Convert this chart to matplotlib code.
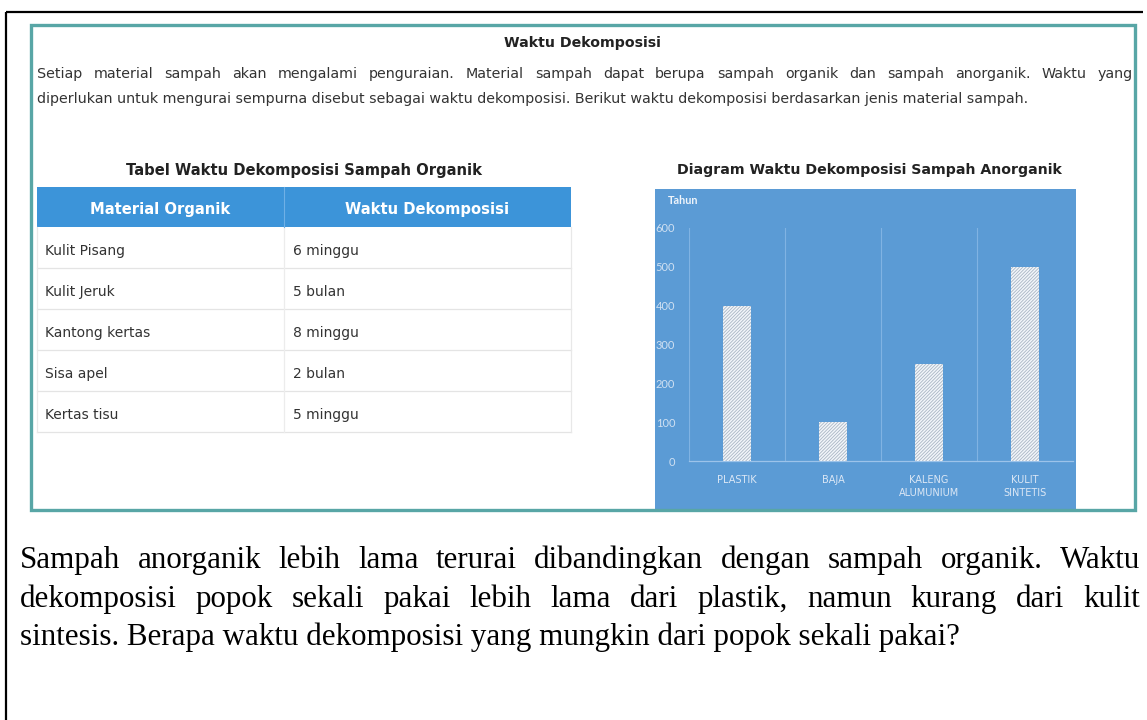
import matplotlib
matplotlib.use('Agg')
import matplotlib.pyplot as plt
from matplotlib.patches import Rectangle
from matplotlib.font_manager import FontProperties

# ---------------- data ----------------
categories = ['PLASTIK', 'BAJA', 'KALENG\nALUMUNIUM', 'KULIT\nSINTETIS']
years = [400, 100, 250, 500]
y_ticks = [0, 100, 200, 300, 400, 500, 600]
y_label = 'Tahun'

table_header = ['Material Organik', 'Waktu Dekomposisi']
materials = ['Kulit Pisang', 'Kulit Jeruk', 'Kantong kertas', 'Sisa apel', 'Kertas tisu']
durations = ['6 minggu', '5 bulan', '8 minggu', '2 bulan', '5 minggu']

title = 'Waktu Dekomposisi'
intro_lines = [
    'Setiap material sampah akan mengalami penguraian. Material sampah dapat berupa sampah organik dan sampah anorganik. Waktu yang',
    'diperlukan untuk mengurai sempurna disebut sebagai waktu dekomposisi. Berikut waktu dekomposisi berdasarkan jenis material sampah.',
]
table_title = 'Tabel Waktu Dekomposisi Sampah Organik'
chart_title = 'Diagram Waktu Dekomposisi Sampah Anorganik'
question_lines = [
    'Sampah anorganik lebih lama terurai dibandingkan dengan sampah organik. Waktu',
    'dekomposisi popok sekali pakai lebih lama dari plastik, namun kurang dari kulit',
    'sintesis. Berapa waktu dekomposisi yang mungkin dari popok sekali pakai?',
]

# ---------------- figure ----------------
W, H = 1147, 720
fig = plt.figure(figsize=(W / 100, H / 100), dpi=100)
bg = fig.add_axes([0, 0, 1, 1])
bg.set_xlim(0, W)
bg.set_ylim(H, 0)
bg.axis('off')
renderer = fig.canvas.get_renderer()

TXT = '#333333'
TEAL = '#58a6a6'
BLUE_PANEL = '#5b9bd5'
HEAD_BLUE = '#3c94d9'

# outer black frame (top + left)
bg.plot([6, 1143], [12, 12], color='black', lw=1.6, solid_capstyle='butt')
bg.plot([6, 6], [12, H], color='black', lw=1.6, solid_capstyle='butt')

# blue chart panel
bg.add_patch(Rectangle((655, 189), 421, 321, facecolor=BLUE_PANEL, edgecolor='none', zorder=1))

# teal box
bg.add_patch(Rectangle((31, 25), 1104, 485, facecolor='none', edgecolor=TEAL, lw=2.4, zorder=5))


def fit_size(text, family, weight, target, base=10.0):
    fp = FontProperties(family=family, weight=weight, size=base)
    t = bg.text(0, 0, text, fontproperties=fp)
    w = t.get_window_extent(renderer).width
    t.remove()
    return base * target / w


def justified(line, y, x0, x1, fp, color, justify=True):
    if not justify:
        bg.text(x0, y, line, fontproperties=fp, color=color, va='baseline', ha='left')
        return
    words = line.split(' ')
    txts = [bg.text(0, y, w, fontproperties=fp, color=color, va='baseline', ha='left') for w in words]
    widths = [t.get_window_extent(renderer).width for t in txts]
    gap = (x1 - x0 - sum(widths)) / (len(words) - 1)
    x = x0
    for t, w in zip(txts, widths):
        t.set_x(x)
        x += w + gap


# title and intro
sans = 'DejaVu Sans'
bg.text(582, 43, title, family=sans, weight='bold', size=10.2, color='#222222', ha='center', va='center')
intro_size = fit_size(intro_lines[1], sans, 'normal', 1028 - 37)
fp_intro = FontProperties(family=sans, size=intro_size)
justified(intro_lines[0], 78, 37, 1133, fp_intro, TXT, True)
justified(intro_lines[1], 103, 37, 1133, fp_intro, TXT, False)

# sub titles
bg.text(304, 170, table_title, family=sans, weight='bold', size=10.6, color='#222222', ha='center', va='center')
bg.text(869, 170, chart_title, family=sans, weight='bold', size=10.2, color='#222222', ha='center', va='center')

# ---------------- table ----------------
tx0, tx1, tdiv = 37, 571, 284
head_top, head_bot = 187, 227
row_h = 41
bg.add_patch(Rectangle((tx0, head_top), tx1 - tx0, head_bot - head_top, facecolor=HEAD_BLUE, edgecolor='none', zorder=2))
bg.plot([tdiv, tdiv], [head_top, head_bot], color='#6fb0e6', lw=0.8, zorder=3)
for j, h in enumerate(table_header):
    cx = (tx0 + tdiv) / 2 if j == 0 else (tdiv + tx1) / 2
    bg.text(cx, (head_top + head_bot) / 2 + 1, h, family=sans, weight='bold', size=10.6, color='white',
            ha='center', va='center_baseline', zorder=4)
n = len(materials)
tbot = head_bot + row_h * n
for i, (m, d) in enumerate(zip(materials, durations)):
    top = head_bot + row_h * i
    bg.plot([tx0, tx1], [top + row_h, top + row_h], color='#e4e4e4', lw=0.9, zorder=2)
    cy = top + row_h / 2 + 2
    bg.text(tx0 + 8, cy, m, family=sans, size=10, color=TXT, ha='left', va='center_baseline', zorder=3)
    bg.text(tdiv + 9, cy, d, family=sans, size=10, color=TXT, ha='left', va='center_baseline', zorder=3)
bg.plot([tx0, tx0], [head_bot, tbot], color='#e8e8e8', lw=0.9, zorder=2)
bg.plot([tx1, tx1], [head_bot, tbot], color='#e8e8e8', lw=0.9, zorder=2)
bg.plot([tdiv, tdiv], [head_bot, tbot], color='#ececec', lw=0.9, zorder=2)

# ---------------- chart ----------------
ax_l, ax_r, ax_b, ax_t = 689, 1073, 461, 228
ax = fig.add_axes([ax_l / W, (H - ax_b) / H, (ax_r - ax_l) / W, (ax_b - ax_t) / H])
ax.set_facecolor('none')
ax.set_zorder(3)
x = list(range(len(categories)))
plt.rcParams['hatch.linewidth'] = 0.6
ax.bar(x, years, width=0.29, color='#f2f6fa', edgecolor='#a9b6c4', lw=0, hatch='//////////', zorder=3)
ax.set_xlim(-0.5, len(categories) - 0.5)
ax.set_ylim(0, 600)
ax.set_yticks(y_ticks)
ax.set_yticklabels([str(v) for v in y_ticks], family='Lato', size=8, color='#cfe0f2')
ax.set_xticks(x)
ax.set_xticklabels(categories, family='DejaVu Sans', size=7, color='#dbe7f5', linespacing=1.45)
ax.set_xticks([i - 0.5 for i in range(len(categories) + 1)], minor=True)
ax.tick_params(axis='both', which='both', length=0)
ax.tick_params(axis='y', pad=10)
ax.tick_params(axis='x', pad=10)
ax.grid(True, which='minor', axis='x', color='#80b3e3', lw=0.8)
ax.grid(False, which='major')
for s in ['top', 'right', 'left']:
    ax.spines[s].set_visible(False)
ax.spines['bottom'].set_color('#9cc3ea')
ax.spines['bottom'].set_linewidth(0.9)
bg.text(668, 201, y_label, family='Lato', weight='bold', size=7.8, color='#eef4fb', ha='left', va='center', zorder=4)

# ---------------- question ----------------
serif = 'Liberation Serif'
q_size = fit_size(question_lines[2], serif, 'normal', 960 - 20)
fp_q = FontProperties(family=serif, size=q_size)
justified(question_lines[0], 568, 20, 1140, fp_q, 'black', True)
justified(question_lines[1], 607, 20, 1140, fp_q, 'black', True)
justified(question_lines[2], 645, 20, 1140, fp_q, 'black', False)

fig.savefig('out.png', dpi=100)
